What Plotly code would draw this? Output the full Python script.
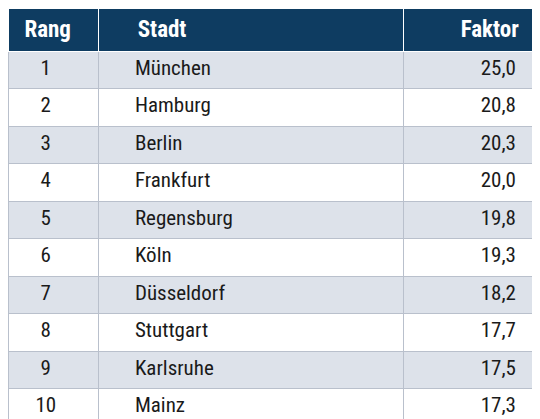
import plotly.graph_objects as go

header = ["Rang", "Stadt", "Faktor"]
rang = [1, 2, 3, 4, 5, 6, 7, 8, 9, 10]
stadt = ["München", "Hamburg", "Berlin", "Frankfurt", "Regensburg",
         "Köln", "Düsseldorf", "Stuttgart", "Karlsruhe", "Mainz"]
faktor = [25.0, 20.8, 20.3, 20.0, 19.8, 19.3, 18.2, 17.7, 17.5, 17.3]

font = "Liberation Sans Narrow, Roboto Condensed, Arial Narrow, sans-serif"
row_colors = ["#dde2ea" if i % 2 == 0 else "#ffffff" for i in range(len(rang))]

fig = go.Figure(
    go.Table(
        domain=dict(x=[0, 1], y=[0, 1]),
        columnwidth=[90, 305, 145],
        header=dict(
            values=["<b>" + header[0] + "</b>  ",
                    "      <b>" + header[1] + "</b>",
                    "<b>" + header[2] + "</b>    "],
            fill_color="#0e3c61",
            line_color="#ffffff",
            font=dict(family=font, size=23, color="white"),
            align=["center", "left", "right"],
            height=40,
        ),
        cells=dict(
            values=[
                [str(r) + "   " for r in rang],
                ["      " + s for s in stadt],
                [f"{v:.1f}".replace(".", ",") + "     " for v in faktor],
            ],
            fill_color=[row_colors] * 3,
            line_color="#b9c0cc",
            font=dict(family=font, size=21, color="#1a1a1a"),
            align=["center", "left", "right"],
            height=37.5,
        ),
    )
)
fig.update_layout(
    width=540, height=419, margin=dict(l=0, r=0, t=0, b=0, pad=0),
    paper_bgcolor="white",
)
fig.write_html("out.html")
